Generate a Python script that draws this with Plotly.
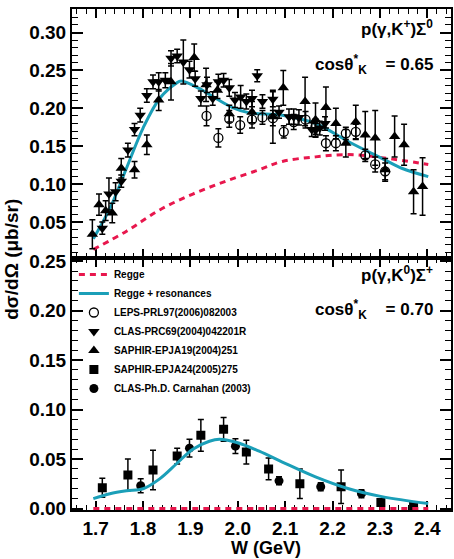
import plotly.graph_objects as go

# ---- Sigma0 channel, cos(theta*_K) = 0.65 ----
leps_w = [1.934, 1.959, 1.982, 2.005, 2.030, 2.052, 2.074, 2.097, 2.118, 2.143, 2.164, 2.186,
          2.207, 2.228, 2.249, 2.269, 2.290, 2.311]
leps_y = [0.190, 0.161, 0.186, 0.178, 0.185, 0.188, 0.187, 0.169, 0.182, 0.185, 0.176, 0.154,
          0.154, 0.167, 0.169, 0.138, 0.126, 0.117]
leps_e = [0.013, 0.012, 0.011, 0.011, 0.011, 0.009, 0.010, 0.008, 0.010, 0.011, 0.010, 0.010,
          0.010, 0.008, 0.010, 0.008, 0.010, 0.011]

clas_w = [1.714, 1.728, 1.742, 1.754, 1.768, 1.782, 1.794, 1.808, 1.821, 1.833, 1.847, 1.859,
          1.872, 1.885, 1.898, 1.910, 1.922, 1.935, 1.947, 1.959, 1.970, 1.982, 1.994, 2.006,
          2.018, 2.030, 2.041, 2.052, 2.074, 2.087, 2.108, 2.118, 2.129, 2.156, 2.164, 2.173, 2.184]
clas_y = [0.042, 0.087, 0.090, 0.104, 0.145, 0.172, 0.191, 0.217, 0.235, 0.235, 0.237, 0.266,
          0.269, 0.261, 0.251, 0.239, 0.213, 0.231, 0.213, 0.235, 0.237, 0.227, 0.211, 0.215,
          0.209, 0.213, 0.243, 0.209, 0.212, 0.195, 0.189, 0.189, 0.188, 0.172, 0.171, 0.174, 0.180]
clas_e = [0.008, 0.021, 0.012, 0.008, 0.009, 0.008, 0.009, 0.009, 0.009, 0.012, 0.010, 0.010,
          0.009, 0.029, 0.011, 0.010, 0.010, 0.010, 0.009, 0.010, 0.009, 0.011, 0.010, 0.015,
          0.010, 0.011, 0.008, 0.009, 0.010, 0.008, 0.010, 0.010, 0.010, 0.009, 0.009, 0.009, 0.009]

saphir19_w = [1.693, 1.707, 1.721, 1.735, 1.754, 1.782, 1.808, 1.833, 1.859, 1.908, 1.933, 1.957,
              1.982, 2.030, 2.074, 2.096, 2.142, 2.164, 2.186, 2.207, 2.228, 2.249, 2.269, 2.290,
              2.311, 2.331, 2.351, 2.371, 2.390]
saphir19_y = [0.034, 0.073, 0.065, 0.062, 0.121, 0.119, 0.152, 0.211, 0.235, 0.267, 0.231, 0.224,
              0.193, 0.195, 0.189, 0.227, 0.209, 0.185, 0.201, 0.180, 0.154, 0.182, 0.165, 0.161,
              0.119, 0.163, 0.152, 0.090, 0.097]
saphir19_e = [0.019, 0.014, 0.013, 0.013, 0.013, 0.011, 0.013, 0.014, 0.024, 0.018, 0.022, 0.011,
              0.011, 0.014, 0.035, 0.023, 0.032, 0.022, 0.027, 0.020, 0.018, 0.022, 0.031, 0.036,
              0.015, 0.027, 0.027, 0.029, 0.038]

top_model_w = [1.695, 1.73, 1.765, 1.80, 1.835, 1.87, 1.88, 1.919, 1.954, 1.989, 2.024, 2.094,
               2.164, 2.234, 2.304, 2.346, 2.402]
top_model_y = [0.028, 0.068, 0.121, 0.174, 0.213, 0.233, 0.236, 0.226, 0.213, 0.201, 0.194, 0.191,
               0.180, 0.156, 0.134, 0.121, 0.110]
top_regge_w = [1.695, 1.765, 1.835, 1.905, 1.975, 2.045, 2.094, 2.164, 2.234, 2.304, 2.402]
top_regge_y = [0.014, 0.038, 0.066, 0.087, 0.104, 0.119, 0.130, 0.136, 0.139, 0.135, 0.126]

# ---- Sigma+ channel, cos(theta*_K) = 0.70 ----
saphir24_w = [1.714, 1.768, 1.821, 1.872, 1.922, 1.970, 2.018, 2.065, 2.131, 2.218, 2.302, 2.371]
saphir24_y = [0.021, 0.034, 0.039, 0.053, 0.074, 0.080, 0.057, 0.040, 0.025, 0.022, 0.006, 0.002]
saphir24_e = [0.0095, 0.016, 0.020, 0.008, 0.016, 0.012, 0.012, 0.011, 0.015, 0.017, 0.003, 0.004]

carn_w = [1.795, 1.898, 1.995, 2.087, 2.175, 2.261]
carn_y = [0.023, 0.061, 0.063, 0.028, 0.022, 0.015]
carn_e = [0.007, 0.009, 0.0075, 0.004, 0.004, 0.004]

bot_model_w = [1.695, 1.73, 1.765, 1.80, 1.835, 1.87, 1.905, 1.94, 1.961, 1.996, 2.045, 2.094,
               2.164, 2.234, 2.304, 2.402]
bot_model_y = [0.010, 0.015, 0.018, 0.020, 0.030, 0.045, 0.060, 0.068, 0.070, 0.067, 0.058, 0.047,
               0.032, 0.020, 0.012, 0.005]
bot_regge_w = [1.695, 2.402]
bot_regge_y = [0.0, 0.0]

TEAL = "#1b9fb8"
RED = "#e8174d"
FONT = "Liberation Sans, Arial, sans-serif"
DASH = "6px,5px"

fig = go.Figure()


def err(e):
    return dict(type="data", array=e, color="black", thickness=1.5, width=3)


# legend order: Regge, Regge + resonances, data sets
fig.add_trace(go.Scatter(x=top_regge_w, y=top_regge_y, mode="lines", name="Regge",
                         line=dict(color=RED, width=3, dash=DASH, shape="spline"),
                         xaxis="x2", yaxis="y2"))
fig.add_trace(go.Scatter(x=top_model_w, y=top_model_y, mode="lines", name="Regge + resonances",
                         line=dict(color=TEAL, width=3, shape="spline"),
                         xaxis="x2", yaxis="y2"))
fig.add_trace(go.Scatter(x=leps_w, y=leps_y, error_y=err(leps_e), mode="markers",
                         name="LEPS-PRL97(2006)082003",
                         marker=dict(symbol="circle-open", size=9, color="black",
                                     line=dict(width=1.3, color="black")),
                         xaxis="x2", yaxis="y2"))
fig.add_trace(go.Scatter(x=clas_w, y=clas_y, error_y=err(clas_e), mode="markers",
                         name="CLAS-PRC69(2004)042201R",
                         marker=dict(symbol="triangle-down", size=10, color="black"),
                         xaxis="x2", yaxis="y2"))
fig.add_trace(go.Scatter(x=saphir19_w, y=saphir19_y, error_y=err(saphir19_e), mode="markers",
                         name="SAPHIR-EPJA19(2004)251",
                         marker=dict(symbol="triangle-up", size=10, color="black"),
                         xaxis="x2", yaxis="y2"))
fig.add_trace(go.Scatter(x=saphir24_w, y=saphir24_y, error_y=err(saphir24_e), mode="markers",
                         name="SAPHIR-EPJA24(2005)275",
                         marker=dict(symbol="square", size=9, color="black"),
                         xaxis="x", yaxis="y"))
fig.add_trace(go.Scatter(x=carn_w, y=carn_y, error_y=err(carn_e), mode="markers",
                         name="CLAS-Ph.D. Carnahan (2003)",
                         marker=dict(symbol="circle", size=9, color="black"),
                         xaxis="x", yaxis="y"))
fig.add_trace(go.Scatter(x=bot_regge_w, y=bot_regge_y, mode="lines", showlegend=False,
                         line=dict(color=RED, width=3, dash=DASH),
                         xaxis="x", yaxis="y"))
fig.add_trace(go.Scatter(x=bot_model_w, y=bot_model_y, mode="lines", showlegend=False,
                         line=dict(color=TEAL, width=3, shape="spline"),
                         xaxis="x", yaxis="y"))

SPLIT = 0.502
xcommon = dict(range=[1.65, 2.45], ticks="inside", mirror="allticks", showline=True,
               linecolor="black", linewidth=2, tickcolor="black", ticklen=9, tickwidth=1.5,
               dtick=0.1, tick0=1.7, tickformat=".1f", showgrid=False, zeroline=False,
               layer="below traces",
               minor=dict(ticks="inside", dtick=0.02, ticklen=5, tickcolor="black",
                          tickwidth=1.2, showgrid=False),
               tickfont=dict(family=FONT, size=19, color="black", weight="bold"))
ycommon = dict(ticks="inside", mirror="allticks", showline=True, linecolor="black",
               linewidth=2, tickcolor="black", ticklen=11, tickwidth=1.5, dtick=0.05,
               tick0=0, tickformat=".2f", showgrid=False, zeroline=False,
               layer="below traces",
               minor=dict(ticks="inside", dtick=0.01, ticklen=6, tickcolor="black",
                          tickwidth=1.2, showgrid=False),
               tickfont=dict(family=FONT, size=19, color="black", weight="bold"))

fig.update_layout(
    width=454, height=559,
    margin=dict(l=72, r=1, t=7, b=49),
    paper_bgcolor="white", plot_bgcolor="white",
    xaxis=dict(xcommon, anchor="y"),
    yaxis=dict(ycommon, domain=[0, SPLIT], range=[-0.0015, 0.2527], anchor="x"),
    xaxis2=dict(xcommon, anchor="y2", showticklabels=False),
    yaxis2=dict(ycommon, domain=[SPLIT, 1], range=[0.002, 0.331], anchor="x2"),
    legend=dict(x=0.005, y=0.499, xanchor="left", yanchor="top", bgcolor="rgba(0,0,0,0)",
                font=dict(family=FONT, size=10, color="black", weight="bold"),
                tracegroupgap=0, itemwidth=30),
    showlegend=True,
)

bold = dict(family=FONT, size=17, color="black", weight="bold")
annots = [
    dict(text="p(γ,K<sup>+</sup>)Σ<sup>0</sup>", x=0.958, y=0.962),
    dict(text="cosθ<sup>*</sup><sub>K</sub>    = 0.65", x=0.958, y=0.890),
    dict(text="p(γ,K<sup>0</sup>)Σ<sup>+</sup>", x=0.958, y=0.471),
    dict(text="cosθ<sup>*</sup><sub>K</sub>    = 0.70", x=0.958, y=0.400),
]
for a in annots:
    fig.add_annotation(xref="paper", yref="paper", xanchor="right", yanchor="middle",
                       showarrow=False, font=bold, **a)

fig.add_annotation(text="dσ/dΩ (μb/sr)", xref="paper", yref="paper", x=-0.16, y=0.50,
                   textangle=-90, showarrow=False, xanchor="center", yanchor="middle",
                   font=dict(family=FONT, size=19, color="black", weight="bold"))
fig.add_annotation(text="W (GeV)", xref="paper", yref="paper", x=0.511, y=-0.075,
                   showarrow=False, xanchor="center", yanchor="middle",
                   font=dict(family=FONT, size=18, color="black", weight="bold"))

fig.write_html("out.html")
